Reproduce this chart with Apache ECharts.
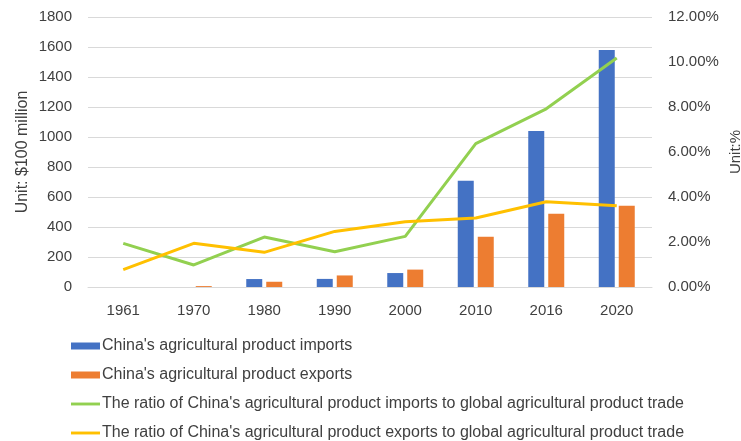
<!DOCTYPE html>
<html>
<head>
<meta charset="utf-8">
<script src="https://cdn.jsdelivr.net/npm/echarts@6/dist/echarts.min.js"></script>
<style>
  html, body { margin: 0; padding: 0; background: #fff; }
  #chart { width: 741px; height: 441px; }
</style>
</head>
<body>
<div id="chart"></div>
<script>
// Years on the category axis
const years = ['1961', '1970', '1980', '1990', '2000', '2010', '2016', '2020'];

// Trade values, unit: $100 million
const importsValue = [0, 0, 53, 54, 93, 709, 1040, 1580];
const exportsValue = [0, 6, 35, 77, 116, 335, 489, 542];

// Share of global agricultural product trade, unit: %
const importsShare = [1.94, 0.98, 2.22, 1.57, 2.25, 6.37, 7.92, 10.18];
const exportsShare = [0.77, 1.94, 1.54, 2.47, 2.90, 3.07, 3.79, 3.61];

// Series names
const names = [
  "China's agricultural product imports",
  "China's agricultural product exports",
  "The ratio of China's agricultural product imports to global agricultural product trade",
  "The ratio of China's agricultural product exports to global agricultural product trade"
];

const FONT = 'Liberation Sans';
const TEXT = '#404040';
const GRID = '#d9d9d9';
// Thin bar used as the legend icon of the two line series
const LINE_ICON = 'path://M0,0H30V3H0Z';

const chart = echarts.init(document.getElementById('chart'), null, { renderer: 'canvas' });

chart.setOption({
  animation: false,
  backgroundColor: '#ffffff',
  textStyle: { fontFamily: FONT },
  grid: { left: 88, right: 89, top: 17, bottom: 154, outerBoundsMode: 'none', containLabel: false },
  legend: {
    orient: 'vertical',
    left: 71,
    top: 337,
    padding: 0,
    height: 110,
    itemWidth: 29,
    itemHeight: 7,
    itemGap: 11,
    textStyle: { color: TEXT, fontSize: 16, fontFamily: FONT, lineHeight: 18, padding: [0, 0, 0, -3] },
    data: [
      { name: names[0], icon: 'rect' },
      { name: names[1], icon: 'rect' },
      { name: names[2], icon: LINE_ICON },
      { name: names[3], icon: LINE_ICON }
    ]
  },
  xAxis: {
    type: 'category',
    data: years,
    axisTick: { show: false },
    axisLine: { lineStyle: { color: GRID, width: 1 } },
    axisLabel: { color: TEXT, fontSize: 15, margin: 16, fontFamily: FONT }
  },
  yAxis: [
    {
      type: 'value',
      min: 0,
      max: 1800,
      interval: 200,
      name: 'Unit: $100 million',
      nameLocation: 'middle',
      nameRotate: 90,
      nameGap: 57,
      nameMoveOverlap: false,
      nameTextStyle: { color: TEXT, fontSize: 16, fontFamily: FONT },
      axisLine: { show: false },
      axisTick: { show: false },
      axisLabel: {
        color: TEXT, fontSize: 15, margin: 16, fontFamily: FONT,
        formatter: v => String(v)
      },
      splitLine: { lineStyle: { color: GRID, width: 1 } }
    },
    {
      type: 'value',
      min: 0,
      max: 12,
      interval: 2,
      position: 'right',
      name: 'Unit:%',
      nameLocation: 'middle',
      nameRotate: 90,
      nameGap: 76,
      nameMoveOverlap: false,
      nameTextStyle: { color: TEXT, fontSize: 15, fontFamily: FONT },
      axisLine: { show: false },
      axisTick: { show: false },
      splitLine: { show: false },
      axisLabel: {
        color: TEXT, fontSize: 15, margin: 16, fontFamily: FONT,
        formatter: v => v.toFixed(2) + '%'
      }
    }
  ],
  series: [
    {
      name: names[0],
      type: 'bar',
      data: importsValue,
      barWidth: 16,
      barGap: '25%',
      itemStyle: { color: '#4472C4' }
    },
    {
      name: names[1],
      type: 'bar',
      data: exportsValue,
      barWidth: 16,
      itemStyle: { color: '#ED7D31' }
    },
    {
      name: names[2],
      type: 'line',
      yAxisIndex: 1,
      data: importsShare,
      symbol: 'none',
      lineStyle: { color: '#92D050', width: 3 },
      itemStyle: { color: '#92D050' }
    },
    {
      name: names[3],
      type: 'line',
      yAxisIndex: 1,
      data: exportsShare,
      symbol: 'none',
      lineStyle: { color: '#FFC000', width: 3 },
      itemStyle: { color: '#FFC000' }
    }
  ]
});
</script>
</body>
</html>
